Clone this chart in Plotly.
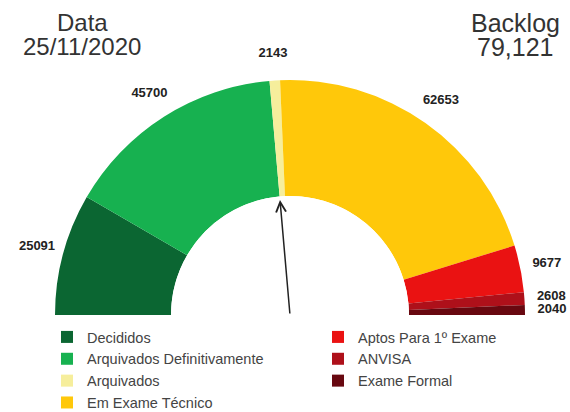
import plotly.graph_objects as go

categories = ["Decididos", "Arquivados Definitivamente", "Arquivados", "Em Exame Técnico",
              "Aptos Para 1º Exame", "ANVISA", "Exame Formal"]
values = [25091, 45700, 2143, 62653, 9677, 2608, 2040]
colors = ["#0b6632", "#17b150", "#f6ee9c", "#ffc80a", "#ea1212", "#ae101a", "#680810"]
legend_ids = ["legend", "legend", "legend", "legend", "legend2", "legend2", "legend2"]
title_left = ["Data", "25/11/2020"]
title_right = ["Backlog", "79,121"]

W, H = 570, 412
CX, CY = 290, 315          # centre of the gauge (px)
R_IN, R_OUT, R_LAB = 119, 235, 262
R_POLAR = 266
HOLE = R_IN / R_POLAR
RMAX = (R_POLAR - R_IN) / (R_OUT - R_IN)
R_LABEL = (R_LAB - R_IN) / (R_OUT - R_IN)

total = sum(values)
widths = [v / total * 180 for v in values]
mids = []
acc = 0
for w in widths:
    mids.append(acc + w / 2)
    acc += w

fig = go.Figure()
for name, v, w, m, c, lg in zip(categories, values, widths, mids, colors, legend_ids):
    fig.add_trace(go.Barpolar(
        r=[1], theta=[m], width=[w], name=name, legend=lg,
        marker=dict(color=c, line=dict(width=0)),
        hovertemplate=name + ": " + str(v) + "<extra></extra>",
    ))

fig.add_trace(go.Scatterpolar(
    r=[R_LABEL] * len(values), theta=mids, mode="text",
    text=[str(v) for v in values], cliponaxis=False, showlegend=False,
    textfont=dict(family="Liberation Sans", size=13, color="#222222", weight="bold"),
    textposition="middle center", hoverinfo="skip",
))

legend_font = dict(family="Liberation Sans", size=14.5, color="#444444")
annotations = []
for i, line in enumerate(title_left):
    annotations.append(dict(text=line, x=82 / W, y=(H - (23 + 24 * i)) / H,
                            xref="paper", yref="paper", xanchor="center", yanchor="middle",
                            showarrow=False, font=dict(family="Liberation Sans", size=24, color="#333333")))
for i, line in enumerate(title_right):
    annotations.append(dict(text=line, x=515 / W, y=(H - (23 + 24 * i)) / H,
                            xref="paper", yref="paper", xanchor="center", yanchor="middle",
                            showarrow=False, font=dict(family="Liberation Sans", size=25, color="#333333")))
annotations.append(dict(text="", x=280 / W, y=(H - 200) / H, xref="paper", yref="paper",
                        showarrow=True, ax=10, ay=115, axref="pixel", ayref="pixel",
                        arrowhead=5, arrowsize=1.3, arrowwidth=1.5, arrowcolor="#222222"))

fig.update_layout(
    width=W, height=H,
    margin=dict(l=0, r=0, t=0, b=0, autoexpand=False),
    paper_bgcolor="white",
    font=dict(family="Liberation Sans", color="#444444"),
    polar=dict(
        domain=dict(x=[(CX - R_POLAR) / W, (CX + R_POLAR) / W], y=[(H - CY) / H, (H - CY + R_POLAR) / H]),
        sector=[0, 180],
        hole=HOLE,
        bgcolor="rgba(0,0,0,0)",
        bargap=0,
        radialaxis=dict(range=[0, RMAX], visible=False),
        angularaxis=dict(direction="clockwise", rotation=180, visible=False),
    ),
    legend=dict(x=47 / W, y=(H - 321) / H, xanchor="left", yanchor="top",
                font=legend_font, bgcolor="rgba(0,0,0,0)", tracegroupgap=0),
    legend2=dict(x=318 / W, y=(H - 321) / H, xanchor="left", yanchor="top",
                 font=legend_font, bgcolor="rgba(0,0,0,0)", tracegroupgap=0),
    annotations=annotations,
)

fig.write_html("out.html")
